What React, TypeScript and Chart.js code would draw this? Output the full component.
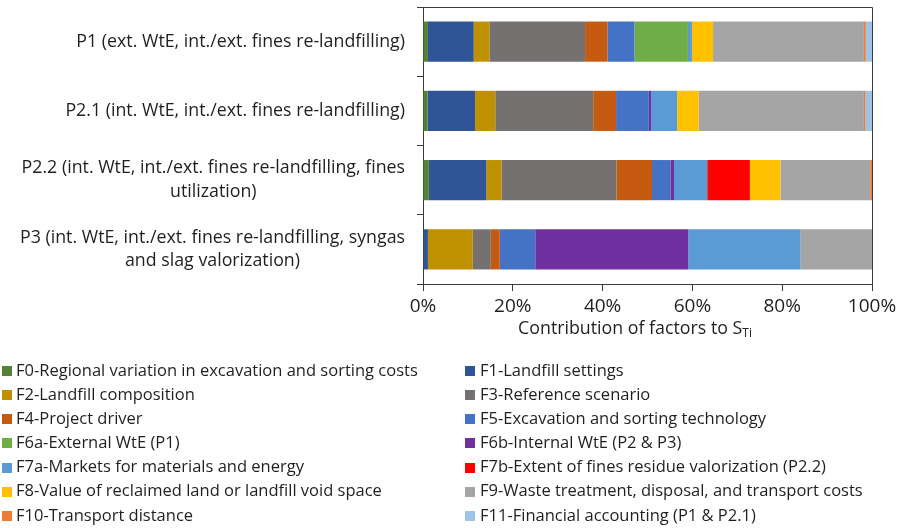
import React, { useEffect, useRef } from "react";
import { Chart, registerables } from "chart.js";

Chart.register(...registerables);

// ---- Data ----
const categories: string[][] = [
  ["P1 (ext. WtE, int./ext. fines re-landfilling)"],
  ["P2.1 (int. WtE, int./ext. fines re-landfilling)"],
  ["P2.2 (int. WtE, int./ext. fines re-landfilling, fines", "utilization)"],
  ["P3 (int. WtE, int./ext. fines re-landfilling, syngas", "and slag valorization)"],
];

const factorNames: string[] = [
  "F0-Regional variation in excavation and sorting costs",
  "F1-Landfill settings",
  "F2-Landfill composition",
  "F3-Reference scenario",
  "F4-Project driver",
  "F5-Excavation and sorting technology",
  "F6a-External WtE (P1)",
  "F6b-Internal WtE (P2 & P3)",
  "F7a-Markets for materials and energy",
  "F7b-Extent of fines residue valorization (P2.2)",
  "F8-Value of reclaimed land or landfill void space",
  "F9-Waste treatment, disposal, and transport costs",
  "F10-Transport distance",
  "F11-Financial accounting (P1 & P2.1)",
];

// values per factor, in order P1, P2.1, P2.2, P3 (percent)
const f0 = [1.1, 1.0, 1.3, 0];
const f1 = [10.2, 10.6, 12.8, 1.1];
const f2 = [3.5, 4.5, 3.4, 10.0];
const f3 = [21.3, 21.8, 25.6, 4.0];
const f4 = [5.0, 5.1, 7.9, 2.0];
const f5 = [6.0, 7.3, 4.1, 7.9];
const f6a = [11.9, 0, 0, 0];
const f6b = [0, 0.5, 0.8, 34.1];
const f7a = [0.9, 5.8, 7.4, 25.0];
const f7b = [0, 0, 9.5, 0];
const f8 = [4.7, 4.8, 6.8, 0];
const f9 = [33.6, 36.8, 20.0, 15.9];
const f10 = [0.4, 0.3, 0.4, 0];
const f11 = [1.4, 1.5, 0, 0];

const seriesValues: number[][] = [f0, f1, f2, f3, f4, f5, f6a, f6b, f7a, f7b, f8, f9, f10, f11];

const seriesColors: string[] = [
  "#548235",
  "#2F5597",
  "#BF9000",
  "#767171",
  "#C55A11",
  "#4472C4",
  "#70AD47",
  "#7030A0",
  "#5B9BD5",
  "#FF0000",
  "#FFC000",
  "#A5A5A5",
  "#ED7D31",
  "#9DC3E6",
];

const xTicks = [0, 20, 40, 60, 80, 100];

const FONT = "'Open Sans'";
const TEXT = "#1f1f1f";
const AXIS = "#3a3a3a";

const decorPlugin = {
  id: "decor",
  afterDraw(chart: any) {
    const ctx = chart.ctx as CanvasRenderingContext2D;
    const area = chart.chartArea;
    const yScale = chart.scales.y;
    ctx.save();
    // top & right frame
    ctx.strokeStyle = AXIS;
    ctx.lineWidth = 1;
    ctx.beginPath();
    ctx.moveTo(Math.round(area.left) - 6, Math.round(area.top) + 0.5);
    ctx.lineTo(Math.round(area.right) + 0.5, Math.round(area.top) + 0.5);
    ctx.lineTo(Math.round(area.right) + 0.5, Math.round(area.bottom));
    ctx.stroke();

    // category labels: block right-aligned, lines centered in block
    ctx.fillStyle = TEXT;
    ctx.font = `17.8px ${FONT}`;
    ctx.textBaseline = "middle";
    ctx.textAlign = "center";
    const lineH = 23.5;
    const rightX = area.left - 18;
    (chart.data.labels as string[][]).forEach((lines, i) => {
      const cy = yScale.getPixelForValue(i);
      const maxW = Math.max(...lines.map((l) => ctx.measureText(l).width));
      const cx = rightX - maxW / 2;
      const y0 = cy - ((lines.length - 1) * lineH) / 2;
      lines.forEach((l, j) => ctx.fillText(l, cx, y0 + j * lineH));
    });

    // axis title with subscript
    const main = "Contribution of factors to S";
    const sub = "Ti";
    ctx.font = `17.8px ${FONT}`;
    const wMain = ctx.measureText(main).width;
    ctx.font = `12px ${FONT}`;
    const wSub = ctx.measureText(sub).width;
    const total = wMain + wSub;
    const tcx = 635;
    const ty = 329;
    ctx.textAlign = "left";
    ctx.font = `17.8px ${FONT}`;
    ctx.fillText(main, tcx - total / 2, ty);
    ctx.font = `12px ${FONT}`;
    ctx.fillText(sub, tcx - total / 2 + wMain, ty + 5);

    // legend in two columns
    ctx.font = `16.5px ${FONT}`;
    ctx.textBaseline = "middle";
    chart.data.datasets.forEach((ds: any, i: number) => {
      const col = i % 2;
      const row = Math.floor(i / 2);
      const y = 371 + row * 24.15;
      const bx = col === 0 ? 2 : 465;
      const tx = col === 0 ? 16 : 480;
      ctx.fillStyle = ds.backgroundColor;
      ctx.fillRect(bx, Math.round(y - 5), 10, 10);
      ctx.fillStyle = TEXT;
      ctx.fillText(ds.label, tx, y);
    });
    ctx.restore();
  },
};

export default function App() {
  const ref = useRef<HTMLCanvasElement | null>(null);
  useEffect(() => {
    if (!ref.current) return;
    const chart = new Chart(ref.current, {
      type: "bar",
      data: {
        labels: categories as any,
        datasets: factorNames.map((name, i) => ({
          label: name,
          data: seriesValues[i],
          backgroundColor: seriesColors[i],
          borderWidth: 0,
          barPercentage: 0.58,
          categoryPercentage: 1,
        })),
      },
      options: {
        indexAxis: "y",
        responsive: false,
        animation: false,
        maintainAspectRatio: false,
        layout: { padding: { top: 7, right: 30, left: 0, bottom: 0 } },
        plugins: {
          legend: { display: false },
          tooltip: { enabled: false },
          title: { display: false },
        },
        scales: {
          x: {
            stacked: true,
            min: 0,
            max: 100,
            afterBuildTicks: (s: any) => {
              s.ticks = xTicks.map((v) => ({ value: v }));
            },
            ticks: {
              callback: (v: any) => `${v}%`,
              font: { family: FONT, size: 19 },
              color: TEXT,
              padding: 4,
              maxRotation: 0,
            },
            grid: {
              display: true,
              drawOnChartArea: false,
              drawTicks: true,
              tickLength: 7,
              color: AXIS,
            },
            border: { display: true, color: AXIS, width: 1 },
            afterFit: (s: any) => {
              s.height = 244;
            },
          },
          y: {
            stacked: true,
            ticks: { display: false },
            grid: {
              display: true,
              offset: true,
              drawOnChartArea: false,
              drawTicks: true,
              tickLength: 6,
              color: AXIS,
            },
            border: { display: true, color: AXIS, width: 1 },
            afterFit: (s: any) => {
              s.width = 423;
            },
          },
        },
      },
      plugins: [decorPlugin],
    });
    return () => chart.destroy();
  }, []);
  return (
    <div style={{ position: "absolute", left: 0, top: 0, width: 902, height: 528, background: "#fff" }}>
      <canvas ref={ref} width={902} height={528} style={{ display: "block" }} />
    </div>
  );
}
